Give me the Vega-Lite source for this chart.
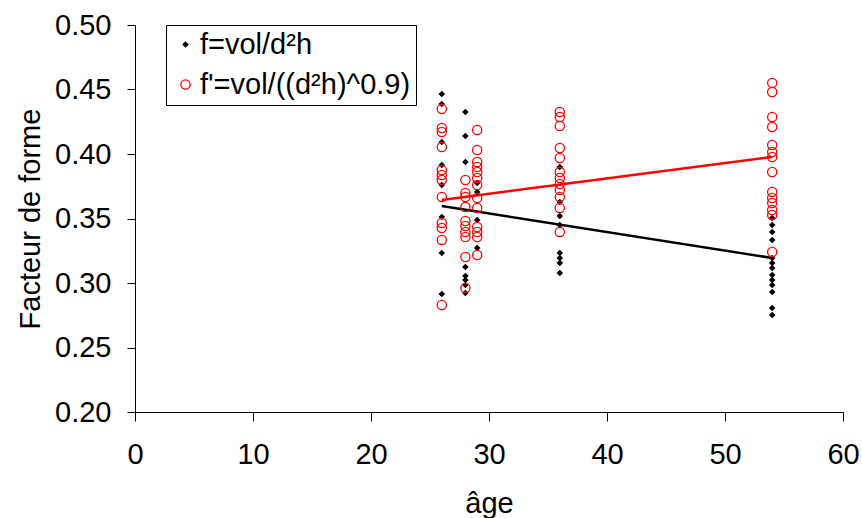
{
  "$schema": "https://vega.github.io/schema/vega-lite/v6.json",
  "autosize": "none",
  "width": 708,
  "height": 387,
  "padding": {"left": 135, "top": 25, "right": 19, "bottom": 106},
  "background": "white",
  "config": {
    "font": "Liberation Sans",
    "view": {"stroke": null},
    "axis": {"grid": false, "labelFlush": false, "domainColor": "black", "tickColor": "black", "labelColor": "black", "titleColor": "black", "labelFont": "Liberation Sans", "titleFont": "Liberation Sans", "labelFontWeight": "normal", "titleFontWeight": "normal", "domainWidth": 1, "tickWidth": 1}
  },
  "datasets": {
    "pts": [
      {"age": 26, "serie": "f=vol/d²h", "f": 0.4465},
      {"age": 26, "serie": "f=vol/d²h", "f": 0.4388},
      {"age": 26, "serie": "f=vol/d²h", "f": 0.4093},
      {"age": 26, "serie": "f=vol/d²h", "f": 0.3915},
      {"age": 26, "serie": "f=vol/d²h", "f": 0.376},
      {"age": 26, "serie": "f=vol/d²h", "f": 0.3512},
      {"age": 26, "serie": "f=vol/d²h", "f": 0.3233},
      {"age": 26, "serie": "f=vol/d²h", "f": 0.2915},
      {"age": 28, "serie": "f=vol/d²h", "f": 0.4326},
      {"age": 28, "serie": "f=vol/d²h", "f": 0.414},
      {"age": 28, "serie": "f=vol/d²h", "f": 0.3938},
      {"age": 28, "serie": "f=vol/d²h", "f": 0.3124},
      {"age": 28, "serie": "f=vol/d²h", "f": 0.3054},
      {"age": 28, "serie": "f=vol/d²h", "f": 0.3023},
      {"age": 28, "serie": "f=vol/d²h", "f": 0.2984},
      {"age": 28, "serie": "f=vol/d²h", "f": 0.2922},
      {"age": 29, "serie": "f=vol/d²h", "f": 0.3775},
      {"age": 29, "serie": "f=vol/d²h", "f": 0.3705},
      {"age": 29, "serie": "f=vol/d²h", "f": 0.3488},
      {"age": 29, "serie": "f=vol/d²h", "f": 0.3271},
      {"age": 36, "serie": "f=vol/d²h", "f": 0.3899},
      {"age": 36, "serie": "f=vol/d²h", "f": 0.3628},
      {"age": 36, "serie": "f=vol/d²h", "f": 0.3519},
      {"age": 36, "serie": "f=vol/d²h", "f": 0.345},
      {"age": 36, "serie": "f=vol/d²h", "f": 0.3233},
      {"age": 36, "serie": "f=vol/d²h", "f": 0.3194},
      {"age": 36, "serie": "f=vol/d²h", "f": 0.3155},
      {"age": 36, "serie": "f=vol/d²h", "f": 0.3078},
      {"age": 54, "serie": "f=vol/d²h", "f": 0.3504},
      {"age": 54, "serie": "f=vol/d²h", "f": 0.345},
      {"age": 54, "serie": "f=vol/d²h", "f": 0.3395},
      {"age": 54, "serie": "f=vol/d²h", "f": 0.3333},
      {"age": 54, "serie": "f=vol/d²h", "f": 0.3194},
      {"age": 54, "serie": "f=vol/d²h", "f": 0.3155},
      {"age": 54, "serie": "f=vol/d²h", "f": 0.3116},
      {"age": 54, "serie": "f=vol/d²h", "f": 0.3062},
      {"age": 54, "serie": "f=vol/d²h", "f": 0.3023},
      {"age": 54, "serie": "f=vol/d²h", "f": 0.2984},
      {"age": 54, "serie": "f=vol/d²h", "f": 0.293},
      {"age": 54, "serie": "f=vol/d²h", "f": 0.2806},
      {"age": 54, "serie": "f=vol/d²h", "f": 0.2752},
      {"age": 26, "serie": "f'=vol/((d²h)^0.9)", "f": 0.4349},
      {"age": 26, "serie": "f'=vol/((d²h)^0.9)", "f": 0.4202},
      {"age": 26, "serie": "f'=vol/((d²h)^0.9)", "f": 0.4171},
      {"age": 26, "serie": "f'=vol/((d²h)^0.9)", "f": 0.4054},
      {"age": 26, "serie": "f'=vol/((d²h)^0.9)", "f": 0.3876},
      {"age": 26, "serie": "f'=vol/((d²h)^0.9)", "f": 0.3837},
      {"age": 26, "serie": "f'=vol/((d²h)^0.9)", "f": 0.3798},
      {"age": 26, "serie": "f'=vol/((d²h)^0.9)", "f": 0.3667},
      {"age": 26, "serie": "f'=vol/((d²h)^0.9)", "f": 0.3465},
      {"age": 26, "serie": "f'=vol/((d²h)^0.9)", "f": 0.3426},
      {"age": 26, "serie": "f'=vol/((d²h)^0.9)", "f": 0.3333},
      {"age": 26, "serie": "f'=vol/((d²h)^0.9)", "f": 0.2829},
      {"age": 28, "serie": "f'=vol/((d²h)^0.9)", "f": 0.3798},
      {"age": 28, "serie": "f'=vol/((d²h)^0.9)", "f": 0.3698},
      {"age": 28, "serie": "f'=vol/((d²h)^0.9)", "f": 0.3667},
      {"age": 28, "serie": "f'=vol/((d²h)^0.9)", "f": 0.3589},
      {"age": 28, "serie": "f'=vol/((d²h)^0.9)", "f": 0.3481},
      {"age": 28, "serie": "f'=vol/((d²h)^0.9)", "f": 0.3442},
      {"age": 28, "serie": "f'=vol/((d²h)^0.9)", "f": 0.3395},
      {"age": 28, "serie": "f'=vol/((d²h)^0.9)", "f": 0.3357},
      {"age": 28, "serie": "f'=vol/((d²h)^0.9)", "f": 0.3202},
      {"age": 28, "serie": "f'=vol/((d²h)^0.9)", "f": 0.2961},
      {"age": 29, "serie": "f'=vol/((d²h)^0.9)", "f": 0.4186},
      {"age": 29, "serie": "f'=vol/((d²h)^0.9)", "f": 0.4031},
      {"age": 29, "serie": "f'=vol/((d²h)^0.9)", "f": 0.3938},
      {"age": 29, "serie": "f'=vol/((d²h)^0.9)", "f": 0.3899},
      {"age": 29, "serie": "f'=vol/((d²h)^0.9)", "f": 0.386},
      {"age": 29, "serie": "f'=vol/((d²h)^0.9)", "f": 0.3814},
      {"age": 29, "serie": "f'=vol/((d²h)^0.9)", "f": 0.376},
      {"age": 29, "serie": "f'=vol/((d²h)^0.9)", "f": 0.3659},
      {"age": 29, "serie": "f'=vol/((d²h)^0.9)", "f": 0.3581},
      {"age": 29, "serie": "f'=vol/((d²h)^0.9)", "f": 0.3434},
      {"age": 29, "serie": "f'=vol/((d²h)^0.9)", "f": 0.3395},
      {"age": 29, "serie": "f'=vol/((d²h)^0.9)", "f": 0.3357},
      {"age": 29, "serie": "f'=vol/((d²h)^0.9)", "f": 0.3217},
      {"age": 36, "serie": "f'=vol/((d²h)^0.9)", "f": 0.4326},
      {"age": 36, "serie": "f'=vol/((d²h)^0.9)", "f": 0.4287},
      {"age": 36, "serie": "f'=vol/((d²h)^0.9)", "f": 0.4217},
      {"age": 36, "serie": "f'=vol/((d²h)^0.9)", "f": 0.4047},
      {"age": 36, "serie": "f'=vol/((d²h)^0.9)", "f": 0.3969},
      {"age": 36, "serie": "f'=vol/((d²h)^0.9)", "f": 0.386},
      {"age": 36, "serie": "f'=vol/((d²h)^0.9)", "f": 0.3814},
      {"age": 36, "serie": "f'=vol/((d²h)^0.9)", "f": 0.3767},
      {"age": 36, "serie": "f'=vol/((d²h)^0.9)", "f": 0.3721},
      {"age": 36, "serie": "f'=vol/((d²h)^0.9)", "f": 0.3667},
      {"age": 36, "serie": "f'=vol/((d²h)^0.9)", "f": 0.3581},
      {"age": 36, "serie": "f'=vol/((d²h)^0.9)", "f": 0.3395},
      {"age": 54, "serie": "f'=vol/((d²h)^0.9)", "f": 0.455},
      {"age": 54, "serie": "f'=vol/((d²h)^0.9)", "f": 0.4481},
      {"age": 54, "serie": "f'=vol/((d²h)^0.9)", "f": 0.4287},
      {"age": 54, "serie": "f'=vol/((d²h)^0.9)", "f": 0.4209},
      {"age": 54, "serie": "f'=vol/((d²h)^0.9)", "f": 0.407},
      {"age": 54, "serie": "f'=vol/((d²h)^0.9)", "f": 0.4016},
      {"age": 54, "serie": "f'=vol/((d²h)^0.9)", "f": 0.3977},
      {"age": 54, "serie": "f'=vol/((d²h)^0.9)", "f": 0.386},
      {"age": 54, "serie": "f'=vol/((d²h)^0.9)", "f": 0.3705},
      {"age": 54, "serie": "f'=vol/((d²h)^0.9)", "f": 0.3659},
      {"age": 54, "serie": "f'=vol/((d²h)^0.9)", "f": 0.362},
      {"age": 54, "serie": "f'=vol/((d²h)^0.9)", "f": 0.3566},
      {"age": 54, "serie": "f'=vol/((d²h)^0.9)", "f": 0.3527},
      {"age": 54, "serie": "f'=vol/((d²h)^0.9)", "f": 0.324}
    ],
    "fits": [
      {"age": 26, "serie": "f", "f": 0.3597},
      {"age": 54, "serie": "f", "f": 0.3194},
      {"age": 26, "serie": "fp", "f": 0.3644},
      {"age": 54, "serie": "fp", "f": 0.3977}
    ]
  },
  "layer": [
    {
      "data": {"name": "fits"},
      "transform": [{"filter": "datum.serie === 'f'"}],
      "mark": {"type": "line", "color": "black", "strokeWidth": 2.5},
      "encoding": {
        "x": {"field": "age", "type": "quantitative"},
        "y": {"field": "f", "type": "quantitative"}
      }
    },
    {
      "data": {"name": "fits"},
      "transform": [{"filter": "datum.serie === 'fp'"}],
      "mark": {"type": "line", "color": "#ff0000", "strokeWidth": 2.5},
      "encoding": {
        "x": {"field": "age", "type": "quantitative"},
        "y": {"field": "f", "type": "quantitative"}
      }
    },
    {
      "data": {"name": "pts"},
      "mark": {"type": "point", "strokeWidth": 1.3, "opacity": 1},
      "encoding": {
        "x": {"field": "age", "type": "quantitative", "scale": {"domain": [0, 60], "nice": false}, "axis": {"values": [0, 10, 20, 30, 40, 50, 60], "title": "âge", "labelFontSize": 29, "titleFontSize": 29, "tickSize": 9, "labelPadding": 19, "titlePadding": 20}},
        "y": {"field": "f", "type": "quantitative", "scale": {"domain": [0.2, 0.5], "nice": false, "zero": false}, "axis": {"values": [0.2, 0.25, 0.3, 0.35, 0.4, 0.45, 0.5], "format": ".2f", "title": "Facteur de forme", "labelFontSize": 29, "titleFontSize": 29, "tickSize": 8, "labelPadding": 16, "titlePadding": 9}},
        "shape": {"field": "serie", "type": "nominal", "scale": {"domain": ["f=vol/d²h", "f'=vol/((d²h)^0.9)"], "range": ["diamond", "circle"]}, "legend": {"title": null, "orient": "none", "legendX": 31, "legendY": 0, "strokeColor": "black", "fillColor": "white", "padding": 5, "labelFontSize": 29, "labelLimit": 0, "labelColor": "black", "labelFont": "Liberation Sans", "rowPadding": 10, "symbolOffset": 0, "labelOffset": 0, "cornerRadius": 0, "symbolStrokeWidth": 1.3}},
        "stroke": {"field": "serie", "type": "nominal", "scale": {"domain": ["f=vol/d²h", "f'=vol/((d²h)^0.9)"], "range": ["black", "#ff0000"]}, "legend": {"title": null, "orient": "none", "legendX": 31, "legendY": 0}},
        "fill": {"field": "serie", "type": "nominal", "scale": {"domain": ["f=vol/d²h", "f'=vol/((d²h)^0.9)"], "range": ["black", "transparent"]}, "legend": {"title": null, "orient": "none", "legendX": 31, "legendY": 0}},
        "size": {"field": "serie", "type": "nominal", "scale": {"domain": ["f=vol/d²h", "f'=vol/((d²h)^0.9)"], "range": [22, 85]}, "legend": {"title": null, "orient": "none", "legendX": 31, "legendY": 0}}
      }
    }
  ]
}
